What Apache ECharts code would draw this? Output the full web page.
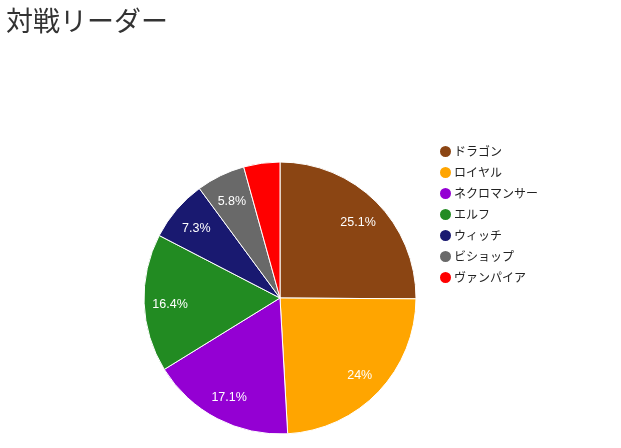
<!DOCTYPE html>
<html><head><meta charset="utf-8">
<script src="https://cdn.jsdelivr.net/npm/echarts@6/dist/echarts.min.js"></script>
<style>html,body{margin:0;padding:0;background:#fff}#c{width:621px;height:448px}</style>
</head><body><div id="c"></div>
<script>
const categories = ["ドラゴン","ロイヤル","ネクロマンサー","エルフ","ウィッチ","ビショップ","ヴァンパイア"];
const values = [25.1, 24, 17.1, 16.4, 7.3, 5.8, 4.3];
const colors = ["#8B4513","#FFA500","#9400D3","#228B22","#191970","#696969","#FF0000"];

const chart = echarts.init(document.getElementById('c'));
const mainData = categories.map((n,i)=>({name:n, value:values[i], itemStyle:{color:colors[i]}}));
const labelData = categories.map((n,i)=>({name:n, value:values[i]}));
chart.setOption({
  animation:false,
  title:{text:"対戦リーダー", left:1, top:2, textStyle:{fontFamily:"Noto Sans CJK JP", fontSize:27, fontWeight:'normal', color:'#333'}},
  legend:{orient:'vertical', left:433, top:139, itemWidth:13, itemHeight:13, itemGap:6, icon:'circle',
    data:categories,
    textStyle:{fontFamily:"Noto Sans CJK JP", fontSize:12, color:'#222', padding:[0,0,0,-3]}},
  series:[
    {type:'pie', radius:[0,136], center:[280,298], startAngle:90, clockwise:true,
     data:mainData, label:{show:false}, labelLine:{show:false},
     itemStyle:{borderColor:'#fff', borderWidth:1}, emphasis:{disabled:true}},
    {type:'pie', radius:[78,136], center:[280,298], startAngle:90, clockwise:true, silent:true,
     data:labelData, minShowLabelAngle:18, legendHoverLink:false,
     itemStyle:{color:'rgba(0,0,0,0)', borderWidth:0},
     label:{show:true, position:'inside', formatter:'{c}%', color:'#fff', fontSize:12.5, fontFamily:'Liberation Sans'},
     labelLayout:{dy:2},
     labelLine:{show:false}, emphasis:{disabled:true}}
  ]
});
</script></body></html>
